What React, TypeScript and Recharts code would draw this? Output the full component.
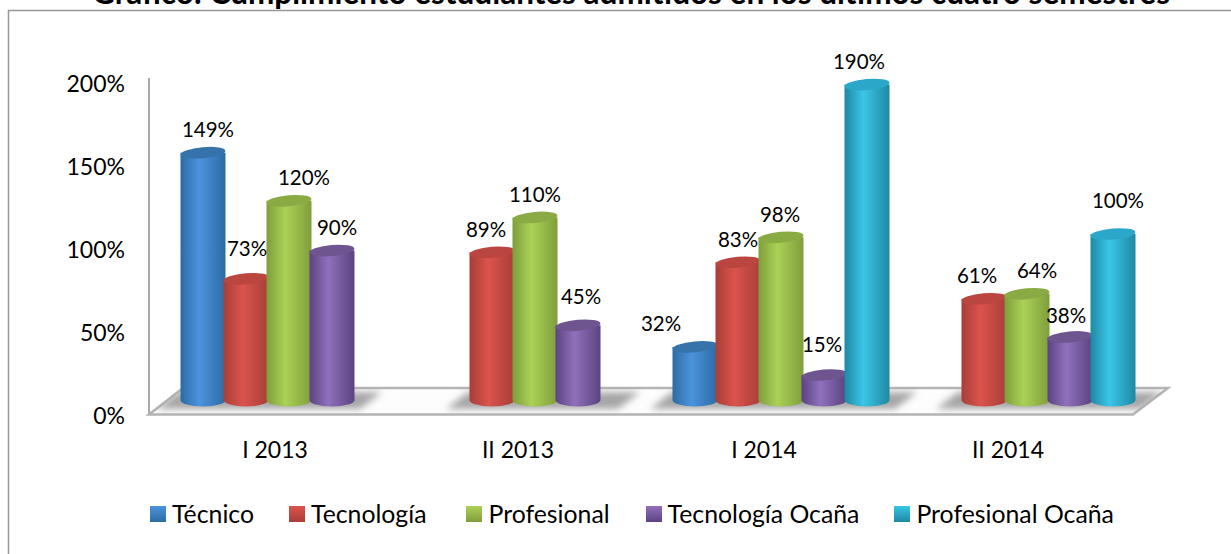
import { BarChart, Bar, XAxis, YAxis, Legend, LabelList, Customized } from "recharts";

const semesters = ["I 2013", "II 2013", "I 2014", "II 2014"];
const tecnico = [149, null, 32, null];
const tecnologia = [73, 89, 83, 61];
const profesional = [120, 110, 98, 64];
const tecnologiaOcana = [90, 45, 15, 38];
const profesionalOcana = [null, null, 190, 100];
const yTicks = [0, 50, 100, 150, 200];

const TITLE = "Gráfico: Cumplimiento estudiantes admitidos en los últimos cuatro semestres";
const FONT = "Lato, 'Noto Sans', sans-serif";

const rows = semesters.map((semester, i) => ({
  semester,
  tecnico: tecnico[i],
  tecnologia: tecnologia[i],
  profesional: profesional[i],
  tecnologiaOcana: tecnologiaOcana[i],
  profesionalOcana: profesionalOcana[i],
}));

// nudge: label offsets keyed by value, the original labels were hand placed
const seriesList = [
  { key: "tecnico", name: "Técnico", edge: "#2c6ca5", mid: "#4b93dc", top: "#3673ab", nudge: { 149: [5, 0], 32: [-34, 0] } },
  { key: "tecnologia", name: "Tecnología", edge: "#a93d39", mid: "#da544c", top: "#bb4640", nudge: { 73: [1, -7], 89: [-6, 0], 61: [-7, 0] } },
  { key: "profesional", name: "Profesional", edge: "#7f9e3b", mid: "#abd157", top: "#8aaa44", nudge: { 120: [15, 0], 98: [-1, 0], 64: [10, 0] } },
  { key: "tecnologiaOcana", name: "Tecnología Ocaña", edge: "#5b4380", mid: "#9070bd", top: "#6f5590", nudge: { 90: [5, 0], 45: [3, -6], 15: [-2, -8], 38: [-4, 2] } },
  { key: "profesionalOcana", name: "Profesional Ocaña", edge: "#1f88a3", mid: "#3ac6e8", top: "#2ba8c9", nudge: { 190: [-8, 0], 100: [5, -11] } },
];

const Cylinder = (props: any) => {
  const { x, y, width, height, fillId, topColor } = props;
  if (!height || height <= 0 || Number.isNaN(y)) return null;
  const w = width + 2;
  const left = x - 1;
  const rx = w / 2;
  const bottom = y + height;
  const d = `M${left},${y} L${left},${bottom} A${rx},6.5 0 0 0 ${left + w},${bottom} L${left + w},${y} Z`;
  return (
    <g>
      <path d={d} fill={`url(#${fillId})`} />
      <ellipse cx={left + rx} cy={y} rx={rx} ry={5.5} fill={topColor} transform={`rotate(-5 ${left + rx} ${y})`} />
    </g>
  );
};

const ValueLabel = (props: any) => {
  const { x, y, width, value, nudge } = props;
  if (value == null) return null;
  const [dx, dy] = nudge[value] || [0, 0];
  return (
    <text x={x + width / 2 + dx} y={y - 23.5 + dy} textAnchor="middle" dominantBaseline="central" fontFamily={FONT} fontSize={20.5} fill="#000">
      {value}%
    </text>
  );
};

const shadowSpans = [[156, 382], [446, 640], [650, 917], [936, 1163]];

// title, chart frame and the pseudo-3D floor behind the cylinders
const Backdrop = () => (
  <g>
    <defs>
      <filter id="floorBlur" x="-10%" y="-50%" width="120%" height="200%">
        <feGaussianBlur stdDeviation="3.5" />
      </filter>
      <clipPath id="floorClip">
        <polygon points="149,414 183,388 1168,388 1133,414" />
      </clipPath>
    </defs>
    <text x={631} y={4} textAnchor="middle" fontFamily={FONT} fontWeight={700} fontSize={31.5} fill="#000">
      {TITLE}
    </text>
    <polyline points="8.5,554 8.5,10.5 1231,10.5" fill="none" stroke="#979797" strokeWidth={1.5} />
    <line x1={149} y1={78} x2={149} y2={414} stroke="#a8a8a8" strokeWidth={2} />
    <polygon points="149,414.5 183,388 1168,388 1133,414.5" fill="#fdfdfd" stroke="#b4b4b4" strokeWidth={2.5} />
    <g clipPath="url(#floorClip)">
      {shadowSpans.map(([from, to]) => (
        <polygon
          key={from}
          points={`${from},409 ${from + 22},392 ${to},392 ${to - 22},409`}
          fill="#a6a6a6"
          filter="url(#floorBlur)"
        />
      ))}
    </g>
  </g>
);

const YTick = ({ x, y, payload }: any) => (
  <text x={x - 33} y={y + 15} textAnchor="end" dominantBaseline="central" fontFamily={FONT} fontSize={23} fill="#000">
    {payload.value}%
  </text>
);

const xTickShift = [-14, -17, -17, -19];

const XTick = ({ x, index, payload }: any) => (
  <text x={x + xTickShift[index]} y={449} textAnchor="middle" dominantBaseline="central" fontFamily={FONT} fontSize={23} fill="#000">
    {payload.value}
  </text>
);

const legendGaps = [0, 35, 40, 36, 35];

const LegendRow = () => (
  <div style={{ display: "flex", paddingLeft: 150, fontFamily: FONT, fontSize: 24.8, color: "#000", lineHeight: "30px" }}>
    {seriesList.map((s, i) => (
      <div key={s.key} style={{ display: "flex", alignItems: "center", marginLeft: legendGaps[i] }}>
        <span
          style={{
            width: 16,
            height: 16,
            marginRight: 6,
            background: `linear-gradient(${s.mid}, ${s.edge})`,
          }}
        />
        {s.name}
      </div>
    ))}
  </div>
);

export default function App() {
  return (
    <div style={{ position: "absolute", left: 0, top: 0, width: 1231, height: 554, overflow: "hidden", background: "#fff" }}>
      <BarChart
        width={1231}
        height={554}
        data={rows}
        margin={{ top: 68, right: 81, bottom: 124, left: 0 }}
        barCategoryGap="6.3%"
        barGap={0}
      >
        <defs>
          {seriesList.map((s) => (
            <linearGradient key={s.key} id={`grad-${s.key}`} x1="0" y1="0" x2="1" y2="0">
              <stop offset="0%" stopColor={s.edge} />
              <stop offset="42%" stopColor={s.mid} />
              <stop offset="100%" stopColor={s.edge} />
            </linearGradient>
          ))}
        </defs>
        <Customized component={Backdrop} />
        <XAxis dataKey="semester" axisLine={false} tickLine={false} height={30} tick={<XTick />} interval={0} />
        <YAxis width={166} domain={[0, 200]} ticks={yTicks} axisLine={false} tickLine={false} tick={<YTick />} />
        {seriesList.map((s) => (
          <Bar
            key={s.key}
            dataKey={s.key}
            name={s.name}
            isAnimationActive={false}
            fill={s.mid}
            shape={(props: any) => <Cylinder {...props} fillId={`grad-${s.key}`} topColor={s.top} />}
          >
            <LabelList dataKey={s.key} content={(props: any) => <ValueLabel {...props} nudge={s.nudge} />} />
          </Bar>
        ))}
        <Legend
          layout="horizontal"
          align="center"
          verticalAlign="middle"
          wrapperStyle={{ left: 0, top: 499, width: 1231 }}
          content={<LegendRow />}
        />
      </BarChart>
    </div>
  );
}
